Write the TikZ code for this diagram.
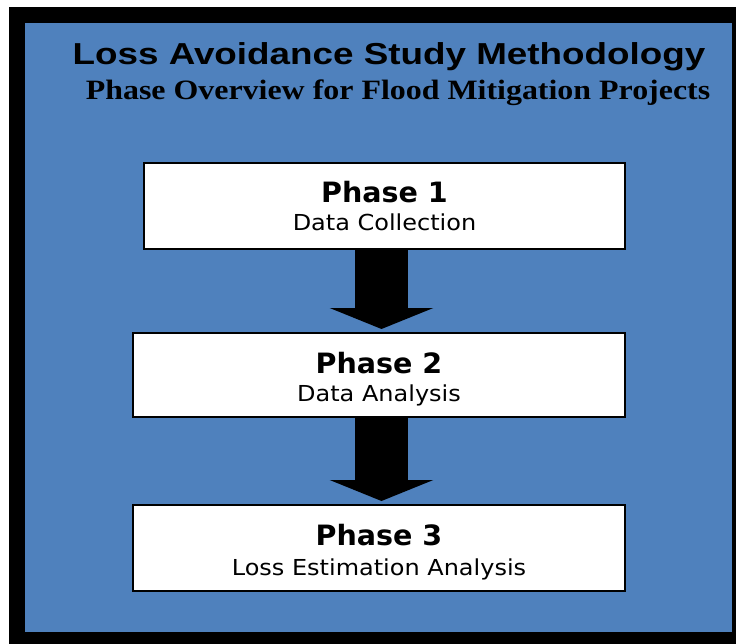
\documentclass[tikz,border=0pt]{standalone}
\usepackage{fontspec}
\usetikzlibrary{calc,arrows.meta}
\newfontfamily\titlefont[FakeStretch=1.215]{Liberation Sans}
\newfontfamily\subfont[FakeStretch=1.14]{Liberation Serif}
\newfontfamily\phasefont[FakeStretch=1.02]{DejaVu Sans}
\newfontfamily\descfont[FakeStretch=1.09]{DejaVu Sans}
\definecolor{bg}{HTML}{4F81BD}
\tikzset{
  phasebox/.style={draw=black, fill=white, line width=2pt, inner sep=0pt},
  phasetitle/.style={anchor=base, inner sep=0pt, font=\phasefont\bfseries\fontsize{28}{33}\selectfont},
  phasedesc/.style={anchor=base, inner sep=0pt, font=\descfont\fontsize{22}{26}\selectfont},
  blockarrow/.style={draw=black, line width=53pt, -{Triangle[length=21pt, width=103pt]}}
}
\begin{document}
\begin{tikzpicture}[x=1pt,y=-1pt]
\useasboundingbox (0,0) rectangle (736,644);
\fill[black] (9,7) rectangle (736,644);
\fill[bg] (25,23) rectangle (732,632);

\node[anchor=base, inner sep=0pt, font=\titlefont\bfseries\fontsize{30.3}{36}\selectfont] (title) at (389,64.3) {Loss Avoidance Study Methodology};
\node[anchor=base, inner sep=0pt, font=\subfont\bfseries\fontsize{28}{33}\selectfont] (subtitle) at (398,100) {Phase Overview for Flood Mitigation Projects};

\node[phasebox, minimum width=481pt, minimum height=86pt] (p1) at (384.5,206) {};
\node[phasebox, minimum width=492pt, minimum height=84pt] (p2) at (379,375) {};
\node[phasebox, minimum width=492pt, minimum height=86pt] (p3) at (379,548) {};

\node[phasetitle] (t1) at ([yshift=-41pt]p1.north) {Phase 1};
\node[phasedesc] (d1) at ([yshift=-69pt]p1.north) {Data Collection};
\node[phasetitle] (t2) at ([yshift=-41pt]p2.north) {Phase 2};
\node[phasedesc] (d2) at ([yshift=-69pt]p2.north) {Data Analysis};
\node[phasetitle] (t3) at ([yshift=-41pt]p3.north) {Phase 3};
\node[phasedesc] (d3) at ([yshift=-71pt]p3.north) {Loss Estimation Analysis};

\draw[blockarrow] ([xshift=-3pt]p1.south) -- ([xshift=2.5pt,yshift=3pt]p2.north);
\draw[blockarrow] ([xshift=2.5pt]p2.south) -- ([xshift=2.5pt,yshift=3pt]p3.north);
\end{tikzpicture}
\end{document}
